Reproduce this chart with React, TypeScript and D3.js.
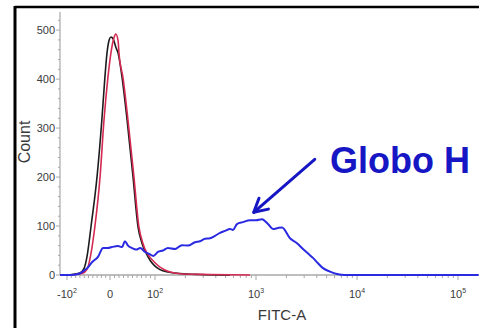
import * as d3 from 'd3'

// FITC-A value, count
const isotypeCurve: [number, number][] = [
  [-116, 0], [-88, 1], [-70, 4], [-60, 14], [-53, 40], [-44, 100], [-30, 202],
  [-19, 316], [-12, 402], [-7, 453], [-2, 480], [2, 486], [7, 482], [13, 465],
  [18, 453], [27, 402], [38, 316], [51, 202], [62, 100], [71, 65], [80, 45],
  [89, 30], [100, 18], [112, 11], [135, 6], [177, 3], [279, 1], [553, 0],
]

const unstainedCurve: [number, number][] = [
  [-116, 0], [-81, 1], [-65, 3], [-53, 12], [-44, 45], [-35, 100], [-23, 202],
  [-14, 316], [-5, 402], [2, 453], [9, 485], [13, 492], [18, 478], [20, 453],
  [29, 402], [40, 316], [53, 202], [64, 100], [73, 65], [82, 45], [89, 36],
  [100, 25], [112, 16], [141, 6], [189, 2], [350, 1], [872, 0],
]

const globoHCurve: [number, number][] = [
  [-116, 0], [-93, 0], [-74, 2], [-65, 6], [-53, 14], [-42, 26], [-28, 37],
  [-16, 55], [-5, 55], [4, 57], [18, 59], [27, 57], [33, 69], [40, 60],
  [49, 55], [58, 52], [67, 55], [78, 47], [89, 42], [96, 39], [107, 47],
  [120, 50], [134, 55], [158, 53], [185, 61], [212, 60], [249, 67], [279, 69],
  [313, 74], [350, 75], [393, 80], [440, 86], [493, 90], [553, 94], [592, 92],
  [648, 104], [743, 108], [872, 112], [1000, 112], [1147, 114], [1315, 104],
  [1473, 94], [1651, 96], [1809, 97], [2171, 75], [2547, 65], [2920, 53],
  [3272, 44], [3667, 35], [4111, 24], [4607, 14], [5404, 7], [6339, 2],
  [7603, 0], [160000, 0],
]

const xMajorTicks = [-100, 0, 100, 1000, 10000, 100000]
const xTickBases = ['-10', '0', '10', '10', '10', '10']
const xTickExps = ['2', '', '2', '3', '4', '5']
const yMajorTicks = [0, 100, 200, 300, 400, 500]

const W = 479
const H = 328

// biexponential-like display: linear around zero, log above 100
const display = (v: number) => (v <= 100 ? v / 100 : 1 + Math.log10(v / 100))

const xs = d3.scaleLinear().domain([-1, 0, 1, 4]).range([67, 110, 155, 458])
const x = (v: number) => xs(display(v))
const y = d3.scaleLinear().domain([0, 537]).range([275, 12])

const xMinor: number[] = []
for (let i = 1; i < 10; i++) {
  xMinor.push(-i * 10)
  xMinor.push(i * 10)
}
for (const dec of [100, 1000, 10000, 100000]) {
  for (let k = 2; k <= 9; k++) {
    if (x(dec * k) < W) xMinor.push(dec * k)
  }
}
const yMinor = d3.range(0, 540, 20).filter((v) => v % 100 !== 0)

const line = d3
  .line<[number, number]>()
  .x((d) => x(d[0]))
  .y((d) => y(d[1]))
  .curve(d3.curveMonotoneX)

export default function App() {
  const axisColor = '#a8a8a8'
  const labelColor = '#3a3a3a'
  const font = "'Liberation Sans', Arial, sans-serif"
  const x0 = 60
  const yBase = y(0)

  const tip = [x(950), y(128)]
  const start = [tip[0] + 61, tip[1] - 53]
  const ang = Math.atan2(tip[1] - start[1], tip[0] - start[0])
  const head = 15
  const headPts = [ang + Math.PI - 0.5, ang + Math.PI + 0.5].map((a) => [
    tip[0] + head * Math.cos(a),
    tip[1] + head * Math.sin(a),
  ])

  return (
    <svg
      width={W}
      height={H}
      style={{ position: 'fixed', left: 0, top: 0, background: '#fff' }}
    >
      <rect x={0} y={0} width={W} height={H} fill="#fff" />
      {/* frame */}
      <line x1={15} y1={7} x2={W} y2={7} stroke="#000" strokeWidth={2.5} />
      <line x1={15} y1={6} x2={15} y2={H} stroke="#000" strokeWidth={3} />

      {/* y axis */}
      <line x1={x0} y1={y(537)} x2={x0} y2={yBase} stroke={axisColor} strokeWidth={1.2} />
      {yMinor.map((v) => (
        <line key={'ym' + v} x1={x0 - 2} x2={x0} y1={y(v)} y2={y(v)} stroke={axisColor} />
      ))}
      {yMajorTicks.map((v) => (
        <g key={'y' + v}>
          <line x1={x0 - 4} x2={x0} y1={y(v)} y2={y(v)} stroke={axisColor} />
          <text
            x={x0 - 5}
            y={y(v)}
            dy="0.35em"
            textAnchor="end"
            fontSize={11}
            fontFamily={font}
            fill={labelColor}
          >
            {v}
          </text>
        </g>
      ))}
      <text
        transform={`translate(30,${142}) rotate(-90)`}
        textAnchor="middle"
        fontSize={16}
        fontFamily={font}
        fill={labelColor}
      >
        Count
      </text>

      {/* x axis */}
      <line x1={x0} y1={yBase} x2={W} y2={yBase} stroke={axisColor} strokeWidth={1.5} />
      {xMinor.map((v) => (
        <line key={'xm' + v} x1={x(v)} x2={x(v)} y1={yBase} y2={yBase + 3} stroke={axisColor} />
      ))}
      {xMajorTicks.map((v, i) => (
        <g key={'x' + v}>
          <line x1={x(v)} x2={x(v)} y1={yBase} y2={yBase + 5} stroke={axisColor} />
          <text
            x={x(v)}
            y={298}
            textAnchor="middle"
            fontSize={11}
            fontFamily={font}
            fill={labelColor}
          >
            {xTickBases[i]}
            {xTickExps[i] ? (
              <tspan fontSize={7} dy={-5}>
                {xTickExps[i]}
              </tspan>
            ) : null}
          </text>
        </g>
      ))}
      <text
        x={282}
        y={320}
        textAnchor="middle"
        fontSize={15}
        fontFamily="'Liberation Sans Narrow', 'Arial Narrow', sans-serif"
        fill={labelColor}
      >
        FITC-A
      </text>

      {/* histograms */}
      <path d={line(isotypeCurve) || ''} fill="none" stroke="#1c1c1c" strokeWidth={1.6} />
      <path d={line(unstainedCurve) || ''} fill="none" stroke="#d42a52" strokeWidth={1.6} />
      <path d={line(globoHCurve) || ''} fill="none" stroke="#2a2ae2" strokeWidth={2} />

      {/* annotation */}
      <line
        x1={start[0]}
        y1={start[1]}
        x2={tip[0]}
        y2={tip[1]}
        stroke="#1616c4"
        strokeWidth={3}
        strokeLinecap="round"
      />
      <polyline
        points={`${headPts[0][0]},${headPts[0][1]} ${tip[0]},${tip[1]} ${headPts[1][0]},${headPts[1][1]}`}
        fill="none"
        stroke="#1616c4"
        strokeWidth={3}
        strokeLinecap="round"
        strokeLinejoin="round"
      />
      <text
        x={330}
        y={173}
        fontSize={36}
        fontWeight="bold"
        fontFamily="'Liberation Sans', Arial, sans-serif"
        fill="#1616c4"
      >
        Globo H
      </text>
    </svg>
  )
}
